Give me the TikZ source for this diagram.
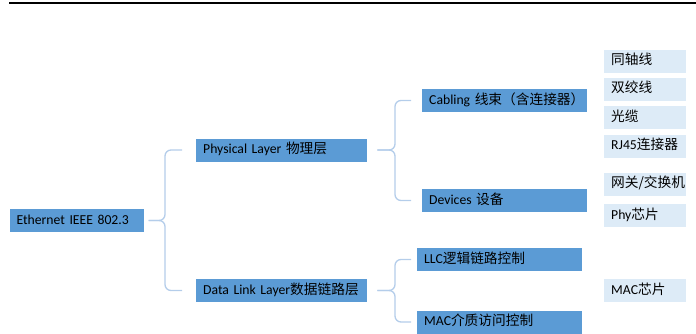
\documentclass[tikz,border=0pt]{standalone}
\usepackage{fontspec}
\setmainfont{Carlito}
\newfontfamily\cjk{Noto Sans CJK SC}
\definecolor{boxblue}{HTML}{5B9BD5}
\definecolor{leafblue}{HTML}{DDEBF7}
\definecolor{braceblue}{HTML}{B4CDEA}

\begin{document}
\begin{tikzpicture}[
    x=1pt, y=-1pt,
    every node/.style={
        font=\fontsize{13.7}{16}\selectfont, anchor=west,
        inner ysep=0pt, minimum height=23pt,
        text height=10pt, text depth=3pt, align=left,
        execute at begin node=\hbox\bgroup,
        execute at end node=\egroup
    },
    layer/.style={fill=boxblue, inner xsep=7pt, text width=#1},
    leaf/.style={fill=leafblue, inner xsep=7pt, text width=68pt},
    brace/.style={draw=braceblue, line width=1.3pt, rounded corners=6pt}
]
\useasboundingbox (0,0) rectangle (696,333);

% Rule on top
\draw[line width=2pt] (9,3) -- (696,3);

% Root and layers
\node[layer=120pt] (eth) at (9.3, 220.5) {Ethernet IEEE 802.3};
\node[layer=157pt] (phy) at (196, 150)   {Physical Layer {\cjk 物理层}};
\node[layer=157pt] (dll) at (196, 290.5) {Data Link Layer{\cjk 数据链路层}};

% Sub layers
\node[layer=151pt] (cab) at (422, 100.5) {Cabling {\cjk 线束（含连接器）}};
\node[layer=151pt] (dev) at (422, 200.5) {Devices {\cjk 设备}};
\node[layer=151pt] (llc) at (417, 259.5) {LLC{\cjk 逻辑链路控制}};
\node[layer=151pt] (mac) at (417, 322)   {MAC{\cjk 介质访问控制}};

% Leaves on the right
\node[leaf] (coax)  at (604, 61)    {{\cjk 同轴线}};
\node[leaf] (twist) at (604, 89)    {{\cjk 双绞线}};
\node[leaf] (fiber) at (604, 117.5) {{\cjk 光缆}};
\node[leaf] (rj)    at (604, 146)   {RJ45{\cjk 连接器}};
\node[leaf] (gw)    at (604, 184)   {{\cjk 网关/交换机}};
\node[leaf] (phyc)  at (604, 215.5) {Phy{\cjk 芯片}};
\node[leaf] (macc)  at (604, 290.5) {MAC{\cjk 芯片}};

% Braces
\coordinate (k0) at (165, 220.5);
\draw[brace] ([xshift=5pt]eth.east) -- (k0) |- ([xshift=-14pt]phy.west);
\draw[brace] ([xshift=5pt]eth.east) -- (k0) |- ([xshift=-14pt]dll.west);

\coordinate (k1) at (395, 150);
\draw[brace] ([xshift=10pt]phy.east) -- (k1) |- ([xshift=-11pt]cab.west);
\draw[brace] ([xshift=10pt]phy.east) -- (k1) |- ([xshift=-11pt]dev.west);

\coordinate (k2) at (395, 290.5);
\draw[brace] ([xshift=10pt]dll.east) -- (k2) |- ([xshift=-6pt]llc.west);
\draw[brace] ([xshift=10pt]dll.east) -- (k2) |- ([xshift=-6pt]mac.west);

\end{tikzpicture}
\end{document}
